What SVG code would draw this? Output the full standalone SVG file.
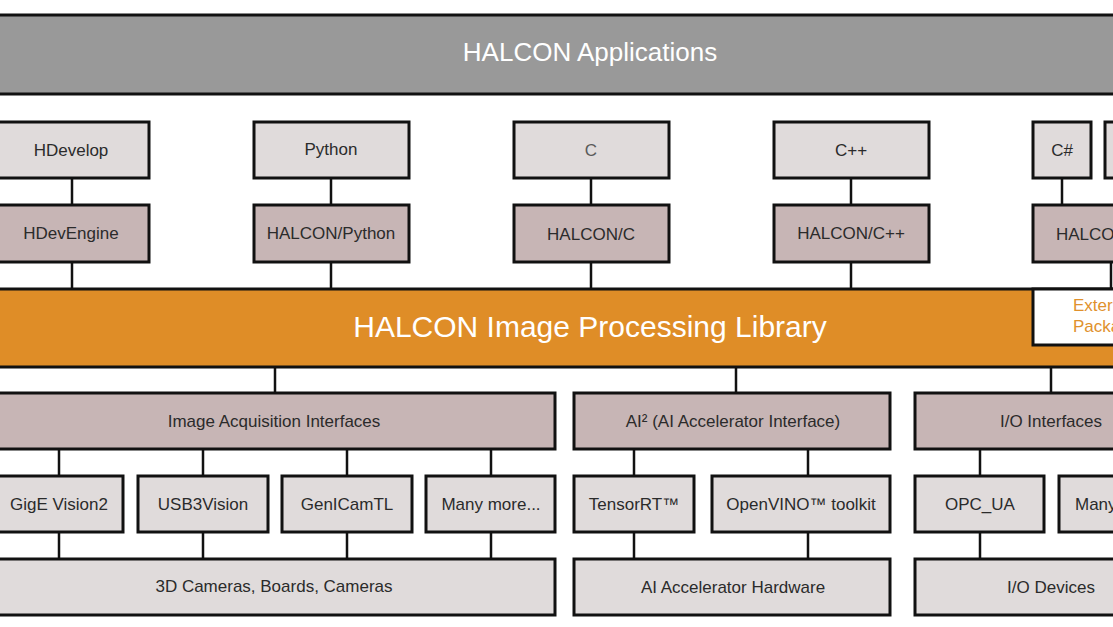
<svg xmlns="http://www.w3.org/2000/svg" width="1113" height="627" viewBox="0 0 1113 627">
<style>
.box{stroke:#111;stroke-width:3}
.lt{fill:#e0dbdb}
.dk{fill:#c7b5b5}
.t{font-family:"Liberation Sans",Arial,sans-serif;font-size:17px;fill:#2b2b2b;text-anchor:middle}
.w{font-family:"Liberation Sans",Arial,sans-serif;fill:#ffffff;text-anchor:middle}
.o{font-family:"Liberation Sans",Arial,sans-serif;font-size:17px;fill:#e0912d}
.c{stroke:#111;stroke-width:2.5;fill:none}
</style>
<rect width="1113" height="627" fill="#ffffff"/>
<g id="connectors">
<path class="c" d="M72 178V205M331 178V205M591 178V205M851 178V205M1062 178V205"/>
<path class="c" d="M72 262V289M331 262V289M591 262V289M851 262V289M1111 262V289"/>
<path class="c" d="M275 367V393M736 367V393M1051 367V393"/>
<path class="c" d="M59 449V476M203 449V476M347 449V476M491 449V476M634 449V476M808 449V476M980 449V476"/>
<path class="c" d="M59 532V559M203 532V559M347 532V559M491 532V559M634 532V559M808 532V559M980 532V559"/>
</g>
<g id="apps"><rect class="box" x="-10" y="15" width="1140" height="79" fill="#999999"/><text class="w" x="590" y="61" font-size="26">HALCON Applications</text></g>
<g id="hdevelop"><rect class="box lt" x="-6" y="122" width="155" height="56"/><text class="t" x="71" y="156">HDevelop</text></g>
<g id="python"><rect class="box lt" x="254" y="122" width="155" height="56"/><text class="t" x="331" y="155">Python</text></g>
<g id="c"><rect class="box lt" x="514" y="122" width="155" height="56"/><text class="t" x="591" y="156" style="fill:#5a5a5a">C</text></g>
<g id="cpp"><rect class="box lt" x="774" y="122" width="155" height="56"/><text class="t" x="851" y="156">C++</text></g>
<g id="csharp"><rect class="box lt" x="1033" y="122" width="58" height="56"/><text class="t" x="1062" y="156">C#</text></g>
<g id="next-lang"><rect class="box lt" x="1105" y="122" width="60" height="56"/></g>
<g id="hdevengine"><rect class="box dk" x="-6" y="205" width="155" height="57"/><text class="t" x="71" y="239">HDevEngine</text></g>
<g id="halcon-python"><rect class="box dk" x="254" y="205" width="155" height="57"/><text class="t" x="331" y="239">HALCON/Python</text></g>
<g id="halcon-c"><rect class="box dk" x="514" y="205" width="155" height="57"/><text class="t" x="591" y="240">HALCON/C</text></g>
<g id="halcon-cpp"><rect class="box dk" x="774" y="205" width="155" height="57"/><text class="t" x="851" y="239">HALCON/C++</text></g>
<g id="halcon-net"><rect class="box dk" x="1033" y="205" width="156" height="57"/><text class="t" x="1056" y="240" style="text-anchor:start">HALCO</text></g>
<g id="library"><rect class="box" x="-10" y="289" width="1140" height="78" fill="#df8d27"/><text class="w" x="590" y="337" font-size="30">HALCON Image Processing Library</text></g>
<g id="external"><rect class="box" x="1033" y="289" width="100" height="56" fill="#ffffff"/><text class="o" x="1073" y="311">Exter</text><text class="o" x="1073" y="332">Packa</text></g>
<g id="acq"><rect class="box dk" x="-6" y="393" width="561" height="56"/><text class="t" x="274" y="427">Image Acquisition Interfaces</text></g>
<g id="ai2"><rect class="box dk" x="574" y="393" width="316" height="56"/><text class="t" x="733" y="427">AI² (AI Accelerator Interface)</text></g>
<g id="io"><rect class="box dk" x="915" y="393" width="272" height="56"/><text class="t" x="1051" y="427">I/O Interfaces</text></g>
<g id="gige"><rect class="box lt" x="-6" y="476" width="129" height="56"/><text class="t" x="59" y="510">GigE Vision2</text></g>
<g id="usb3"><rect class="box lt" x="138" y="476" width="130" height="56"/><text class="t" x="203" y="510">USB3Vision</text></g>
<g id="genicam"><rect class="box lt" x="282" y="476" width="130" height="56"/><text class="t" x="347" y="510">GenICamTL</text></g>
<g id="many1"><rect class="box lt" x="426" y="476" width="129" height="56"/><text class="t" x="491" y="510">Many more...</text></g>
<g id="tensorrt"><rect class="box lt" x="574" y="476" width="120" height="56"/><text class="t" x="634" y="510">TensorRT™</text></g>
<g id="openvino"><rect class="box lt" x="712" y="476" width="178" height="56"/><text class="t" x="801" y="510">OpenVINO™ toolkit</text></g>
<g id="opcua"><rect class="box lt" x="915" y="476" width="129" height="56"/><text class="t" x="980" y="510">OPC_UA</text></g>
<g id="many2"><rect class="box lt" x="1059" y="476" width="130" height="56"/><text class="t" x="1075" y="510" style="text-anchor:start">Many</text></g>
<g id="cameras"><rect class="box lt" x="-6" y="559" width="561" height="56"/><text class="t" x="274" y="592">3D Cameras, Boards, Cameras</text></g>
<g id="aihw"><rect class="box lt" x="574" y="559" width="316" height="56"/><text class="t" x="733" y="593">AI Accelerator Hardware</text></g>
<g id="iodev"><rect class="box lt" x="915" y="559" width="272" height="56"/><text class="t" x="1051" y="593">I/O Devices</text></g>
</svg>
